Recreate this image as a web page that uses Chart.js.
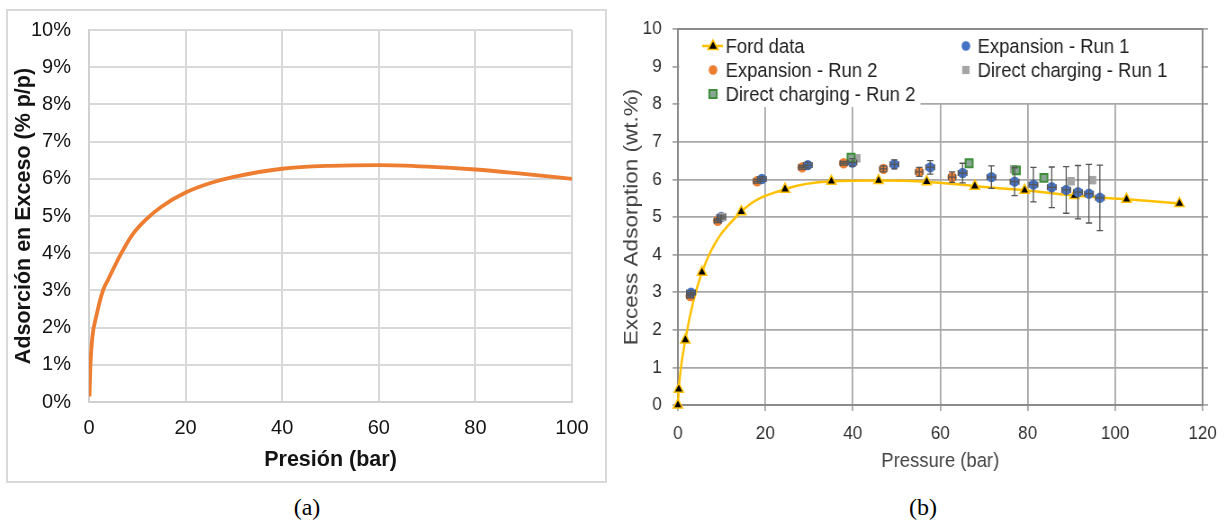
<!DOCTYPE html>
<html>
<head>
<meta charset="utf-8">
<script src="https://cdn.jsdelivr.net/npm/chart.js@4.4.1/dist/chart.umd.min.js"></script>
<style>
  html, body { margin: 0; padding: 0; background: #fff; }
  body { width: 1228px; height: 522px; position: relative; overflow: hidden; }
  #boxA { position: absolute; left: 6px; top: 9px; width: 597px; height: 470px; border: 2px solid #d9d9d9; }
  #wrapA { position: absolute; left: 0; top: 0; }
  /* panel (b) of the source is horizontally compressed */
  #wrapB { position: absolute; left: 614px; top: 0; transform: scaleX(0.9); transform-origin: 0 0; }
  .cap { position: absolute; top: 494px; width: 60px; margin-left: -30px; text-align: center;
         font-family: 'Liberation Serif', 'Times New Roman', serif; font-size: 24px; line-height: 26px; color: #000; }
</style>
</head>
<body>
<div id="boxA"></div>
<div id="wrapA"><canvas id="chartA" width="614" height="490" style="width:614px;height:490px"></canvas></div>
<div id="wrapB"><canvas id="chartB" width="682" height="490" style="width:682px;height:490px"></canvas></div>
<div class="cap" style="left:307px">(a)</div>
<div class="cap" style="left:923px">(b)</div>
<script>
// ---- panel (a) ----
const pressA = [0.1, 0.3, 0.7, 1.5, 2.9, 4, 6.7, 9, 12, 15, 20, 25, 30, 40, 50, 60, 70, 80, 90, 100];
const adsA   = [0.15, 1.0, 1.75, 2.3, 3.0, 3.3, 4.0, 4.5, 4.93, 5.25, 5.63, 5.88, 6.05, 6.27, 6.35, 6.37, 6.33, 6.25, 6.13, 6.0];
const xTicksA = [0, 20, 40, 60, 80, 100];
const yTicksA = [0, 1, 2, 3, 4, 5, 6, 7, 8, 9, 10];
const yLabelsA = ['0%', '1%', '2%', '3%', '4%', '5%', '6%', '7%', '8%', '9%', '10%'];

// ---- panel (b) ----
const fordX = [0, 0.2, 1.7, 5.5, 14.5, 24.5, 35.1, 45.9, 56.9, 67.9, 79.3, 90.7, 102.6, 114.7];
const fordY = [0, 0.42, 1.73, 3.53, 5.14, 5.74, 5.95, 5.97, 5.94, 5.82, 5.71, 5.57, 5.47, 5.36];

const exp1X = [3.0, 9.9, 19.2, 29.7, 39.9, 49.5, 57.7, 65.1, 71.7, 77.0, 81.3, 85.5, 88.8, 91.5, 94.0, 96.5];
const exp1Y = [2.99, 5.0, 6.01, 6.38, 6.45, 6.40, 6.32, 6.17, 6.06, 5.94, 5.86, 5.79, 5.72, 5.66, 5.62, 5.51];
const exp1YErr = [0.05, 0.05, 0.06, 0.08, 0.1, 0.12, 0.18, 0.26, 0.3, 0.37, 0.46, 0.54, 0.62, 0.71, 0.78, 0.87];
const exp1XErr = [1, 1, 1, 1, 1, 1, 1, 1, 1, 1, 1, 1, 1, 1, 1, 1];

const exp2X = [2.8, 9.1, 18.1, 28.4, 37.9, 47.0, 55.2, 62.7];
const exp2Y = [2.90, 4.90, 5.95, 6.32, 6.43, 6.28, 6.20, 6.06];
const exp2YErr = [0.05, 0.05, 0.05, 0.05, 0.05, 0.08, 0.12, 0.14];
const exp2XErr = [0.8, 0.8, 0.8, 0.8, 0.8, 0.8, 0.8, 0.8];

const dc1X = [10.2, 40.9, 76.8, 89.9, 94.8];
const dc1Y = [5.0, 6.56, 6.27, 5.95, 5.98];

const dc2X = [39.6, 66.6, 77.4, 83.7];
const dc2Y = [6.58, 6.43, 6.24, 6.04];

const xTicksB = [0, 20, 40, 60, 80, 100, 120];
const yTicksB = [0, 1, 2, 3, 4, 5, 6, 7, 8, 9, 10];

const FONT = "'Liberation Sans', Arial, sans-serif";
const pts = (xs, ys) => xs.map((x, i) => ({ x: x, y: ys[i] }));

// chart (a)
const gridA = '#d9d9d9';
const inkA = '#141414';
new Chart(document.getElementById('chartA'), {
  type: 'line',
  data: {
    datasets: [{
      data: pts(pressA, adsA),
      borderColor: '#ED7D31',
      borderWidth: 3.8,
      pointRadius: 0,
      cubicInterpolationMode: 'monotone',
      fill: false
    }]
  },
  options: {
    responsive: false,
    animation: false,
    devicePixelRatio: 1,
    layout: { padding: { top: 27, right: 42, bottom: 0, left: 0 } },
    plugins: { legend: { display: false }, tooltip: { enabled: false } },
    scales: {
      x: {
        type: 'linear', min: 0, max: 100,
        afterBuildTicks: s => { s.ticks = xTicksA.map(v => ({ value: v })); },
        afterFit: s => { s.height = 88; },
        grid: { color: gridA, lineWidth: 2, drawTicks: false },
        border: { color: '#d0d0d0', width: 2 },
        ticks: { color: inkA, font: { family: FONT, size: 20 }, padding: 14, maxRotation: 0 },
        title: { display: true, text: 'Presión (bar)', color: inkA,
                 font: { family: FONT, size: 21.5, weight: 'bold' }, padding: { top: 0, bottom: 17 } }
      },
      y: {
        type: 'linear', min: 0, max: 10,
        afterBuildTicks: s => { s.ticks = yTicksA.map(v => ({ value: v })); },
        afterFit: s => { s.width = 89; },
        grid: { color: gridA, lineWidth: 2, drawTicks: false },
        border: { color: '#d0d0d0', width: 2 },
        ticks: { color: inkA, font: { family: FONT, size: 20 }, padding: 18,
                 callback: (v, i) => yLabelsA[i] },
        title: { display: true, text: 'Adsorción en Exceso (% p/p)', color: inkA,
                 font: { family: FONT, size: 21.5, weight: 'bold' }, padding: { top: 11, bottom: 0 } }
      }
    }
  }
});

// chart (b)
const gridB = '#a8a8a8';
const frameB = '#8a8a8a';
const inkB = '#2e2e2e';
const titleB = '#444444';

function marker(ctx, style, x, y, r, fill, stroke, bw) {
  ctx.save();
  ctx.beginPath();
  if (style === 'circle') {
    ctx.arc(x, y, r, 0, Math.PI * 2);
  } else if (style === 'rect') {
    const h = r * Math.SQRT1_2;
    ctx.rect(x - h, y - h, 2 * h, 2 * h);
  } else {
    ctx.moveTo(x, y - r);
    ctx.lineTo(x + r * 0.95, y + r * 0.6);
    ctx.lineTo(x - r * 0.95, y + r * 0.6);
    ctx.closePath();
  }
  ctx.fillStyle = fill;
  ctx.fill();
  if (bw > 0) { ctx.lineWidth = bw; ctx.strokeStyle = stroke; ctx.stroke(); }
  ctx.restore();
}

const errorSets = [
  { xs: exp1X, ys: exp1Y, ex: exp1XErr, ey: exp1YErr },
  { xs: exp2X, ys: exp2Y, ex: exp2XErr, ey: exp2YErr }
];

const legendItems = [
  { ds: 0, col: 0, row: 0, style: 'triangle' },
  { ds: 2, col: 0, row: 1, style: 'circle' },
  { ds: 4, col: 0, row: 2, style: 'rect' },
  { ds: 1, col: 1, row: 0, style: 'circle' },
  { ds: 3, col: 1, row: 1, style: 'rect' }
];

const panelB = {
  id: 'panelB',
  beforeDatasetsDraw(chart) {
    const { ctx, chartArea: a } = chart;
    ctx.save();
    // legend background hides the grid behind it
    ctx.fillStyle = '#fff';
    ctx.fillRect(a.left + 1.5, a.top, 339 - a.left, 78);
    ctx.fillRect(339, a.top, a.right - 1.5 - 339, 74);
    // top frame line
    ctx.strokeStyle = frameB;
    ctx.lineWidth = 2;
    ctx.beginPath();
    ctx.moveTo(a.left, a.top);
    ctx.lineTo(a.right, a.top);
    ctx.stroke();
    ctx.restore();
  },
  afterDatasetsDraw(chart) {
    const { ctx } = chart;
    const xs = chart.scales.x, ys = chart.scales.y;
    ctx.save();
    ctx.strokeStyle = '#555';
    ctx.lineWidth = 1.3;
    errorSets.forEach(s => {
      s.xs.forEach((xv, i) => {
        const px = xs.getPixelForValue(xv), py = ys.getPixelForValue(s.ys[i]);
        const x0 = xs.getPixelForValue(xv - s.ex[i]), x1 = xs.getPixelForValue(xv + s.ex[i]);
        const y0 = ys.getPixelForValue(s.ys[i] - s.ey[i]), y1 = ys.getPixelForValue(s.ys[i] + s.ey[i]);
        ctx.beginPath();
        ctx.moveTo(x0, py); ctx.lineTo(x1, py);
        ctx.moveTo(x0, py - 3); ctx.lineTo(x0, py + 3);
        ctx.moveTo(x1, py - 3); ctx.lineTo(x1, py + 3);
        ctx.moveTo(px, y0); ctx.lineTo(px, y1);
        ctx.moveTo(px - 3.5, y0); ctx.lineTo(px + 3.5, y0);
        ctx.moveTo(px - 3.5, y1); ctx.lineTo(px + 3.5, y1);
        ctx.stroke();
      });
    });
    ctx.restore();

    // legend
    const colMarker = [110, 391];
    const colText = [124, 404];
    const rowY = [46, 70, 94];
    ctx.save();
    ctx.font = '20.5px ' + FONT;
    ctx.textBaseline = 'middle';
    legendItems.forEach(it => {
      const ds = chart.data.datasets[it.ds];
      const mx = colMarker[it.col], my = rowY[it.row];
      if (it.ds === 0) {
        ctx.strokeStyle = ds.borderColor;
        ctx.lineWidth = 2.5;
        ctx.beginPath();
        ctx.moveTo(mx - 12, my); ctx.lineTo(mx + 11, my);
        ctx.stroke();
      }
      marker(ctx, it.style, mx, my, it.style === 'triangle' ? 6 : (it.style === 'rect' ? 5.8 : 4.8),
             ds.pointBackgroundColor, ds.pointBorderColor, ds.pointBorderWidth);
      ctx.fillStyle = '#222';
      ctx.fillText(ds.label, colText[it.col], my + 1);
    });
    ctx.restore();
  }
};

new Chart(document.getElementById('chartB'), {
  type: 'line',
  data: {
    datasets: [
      { label: 'Ford data', data: pts(fordX, fordY), order: 5, clip: 10,
        borderColor: '#FFC000', borderWidth: 2.5, cubicInterpolationMode: 'monotone',
        pointStyle: 'triangle', pointRadius: 6, pointBackgroundColor: '#000',
        pointBorderColor: '#FFC000', pointBorderWidth: 1.5 },
      { label: 'Expansion - Run 1', data: pts(exp1X, exp1Y), order: 3, showLine: false,
        pointStyle: 'circle', pointRadius: 5.2, pointBackgroundColor: '#4472C4',
        pointBorderColor: '#4472C4', pointBorderWidth: 0 },
      { label: 'Expansion - Run 2', data: pts(exp2X, exp2Y), order: 4, showLine: false,
        pointStyle: 'circle', pointRadius: 5.2, pointBackgroundColor: '#ED7D31',
        pointBorderColor: '#ED7D31', pointBorderWidth: 0 },
      { label: 'Direct charging - Run 1', data: pts(dc1X, dc1Y), order: 2, showLine: false,
        pointStyle: 'rect', pointRadius: 6, pointBackgroundColor: '#A5A5A5',
        pointBorderColor: '#A5A5A5', pointBorderWidth: 0 },
      { label: 'Direct charging - Run 2', data: pts(dc2X, dc2Y), order: 1, showLine: false,
        pointStyle: 'rect', pointRadius: 5.6, pointBackgroundColor: '#8aa596',
        pointBorderColor: '#3f8f3a', pointBorderWidth: 2 }
    ]
  },
  options: {
    responsive: false,
    animation: false,
    devicePixelRatio: 1,
    layout: { padding: { top: 29, right: 22, bottom: 0, left: 0 } },
    plugins: { legend: { display: false }, tooltip: { enabled: false } },
    scales: {
      x: {
        type: 'linear', min: 0, max: 120,
        afterBuildTicks: s => { s.ticks = xTicksB.map(v => ({ value: v })); },
        afterFit: s => { s.height = 85; },
        grid: { color: gridB, lineWidth: 1.8, tickLength: 6 },
        border: { color: frameB, width: 2 },
        ticks: { color: inkB, font: { family: FONT, size: 19 }, padding: 11, maxRotation: 0 },
        title: { display: true, text: 'Pressure (bar)', color: titleB,
                 font: { family: FONT, size: 20.5 }, padding: { top: 0, bottom: 16 } }
      },
      y: {
        type: 'linear', min: 0, max: 10,
        afterBuildTicks: s => { s.ticks = yTicksB.map(v => ({ value: v })); },
        afterFit: s => { s.width = 71; },
        grid: { color: gridB, lineWidth: 1.8, tickLength: 6 },
        border: { color: frameB, width: 2 },
        ticks: { color: inkB, font: { family: FONT, size: 19 }, padding: 12 },
        title: { display: true, text: 'Excess Adsorption (wt.%)', color: titleB,
                 font: { family: FONT, size: 22.5 }, padding: { top: 6.5, bottom: 0 } }
      },
      y2: {
        type: 'linear', position: 'right', min: 0, max: 10,
        afterBuildTicks: s => { s.ticks = yTicksB.map(v => ({ value: v })); },
        afterFit: s => { s.width = 6; },
        grid: { color: gridB, lineWidth: 1.8, tickLength: 6, drawOnChartArea: false },
        border: { color: frameB, width: 2 },
        ticks: { display: false }
      }
    }
  },
  plugins: [panelB]
});
</script>
</body>
</html>
